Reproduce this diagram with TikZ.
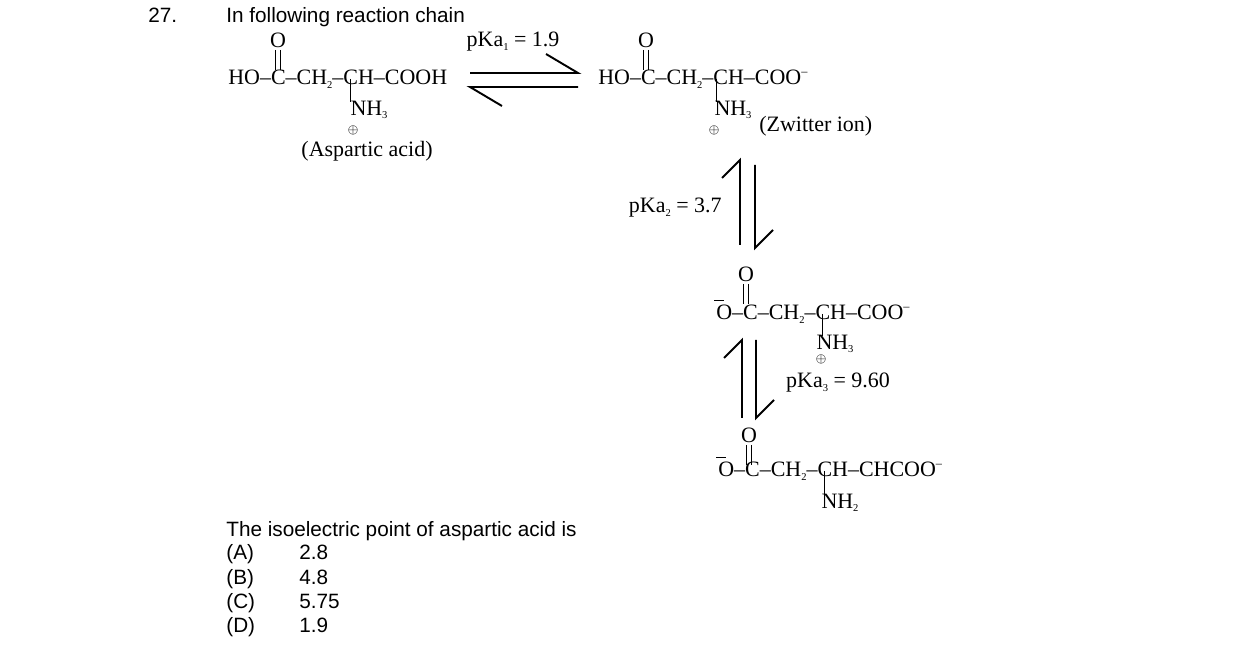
\documentclass[tikz,border=0pt]{standalone}
\usepackage{fontspec}
\setmainfont{Liberation Serif}
\setsansfont{Liberation Sans}
\usetikzlibrary{positioning}
\tikzset{
  chem/.style={font=\fontsize{12.5}{14}\selectfont, inner sep=0pt},
  small/.style={font=\fontsize{7}{8}\selectfont, inner sep=0pt},
  quest/.style={font=\sffamily\fontsize{11.8}{13}\selectfont, inner sep=0pt, anchor=base west},
  bond/.style={line width=.5pt},
  eqarrow/.style={line width=1.1pt}
}
\newcommand{\sub}[1]{\raisebox{-0.35ex}{\fontsize{6}{6}\selectfont #1}}
\newcommand{\minuscharge}{\raisebox{0.9ex}{\fontsize{7}{7}\selectfont –}}
\begin{document}
\begin{tikzpicture}[x=0.02cm,y=-0.02cm]
\useasboundingbox (0,0) rectangle (1238,658);
% question
\node[quest] (num) at (148,23) {27.};
\node[quest] (intro) at (226,23) {In following reaction chain};
% aspartic acid
\node[chem, anchor=base west] (m1) at (228,85) {HO–C–CH\sub{2}–CH–COOH};
\node[chem] (m1o) at (278,40) {O};
\node[chem] (m1n) at (369,110) {NH\sub{3}};
\node[small] (m1p) at (353,130) {$\oplus$};
\node[chem] (m1name) at (367,151) {(Aspartic acid)};
\draw[bond] (275,50) -- (275,70) (280,50) -- (280,70);
\draw[bond] (350,79) -- (350,102);
% first equilibrium
\coordinate (a1) at (470,73); \coordinate (a2) at (578,73);
\coordinate (a3) at (578,87); \coordinate (a4) at (470,87);
\draw[eqarrow] (a1) -- (a2) -- ++(-32,-19);
\draw[eqarrow] (a3) -- (a4) -- ++(32,19);
\node[chem] (k1) at (513,42) {pKa\sub{1} = 1.9};
% zwitter ion
\node[chem, anchor=base west] (m2) at (598,85) {HO–C–CH\sub{2}–CH–COO\minuscharge};
\node[chem] (m2o) at (646,40) {O};
\node[chem] (m2n) at (733,110) {NH\sub{3}};
\node[small] (m2p) at (714,130) {$\oplus$};
\node[chem, anchor=west] (m2name) at (759,126) {(Zwitter ion)};
\draw[bond] (643,50) -- (643,70) (648,50) -- (648,70);
\draw[bond] (716,79) -- (716,102);
% second equilibrium
\coordinate (b1) at (740,245); \coordinate (b2) at (740,160);
\coordinate (b3) at (755,165); \coordinate (b4) at (755,248);
\draw[eqarrow] (b1) -- (b2) -- ++(-18,18);
\draw[eqarrow] (b3) -- (b4) -- ++(18,-18);
\node[chem, anchor=east] (k2) at (722,208) {pKa\sub{2} = 3.7};
% dianion
\node[chem, anchor=base west] (m3) at (716,320) {O–C–CH\sub{2}–CH–COO\minuscharge};
\node[chem] (m3o) at (746,274) {O};
\node[chem] (m3n) at (835,344) {NH\sub{3}};
\node[small] (m3p) at (821,359) {$\oplus$};
\draw[bond] (714,300) -- (724,300);
\draw[bond] (743,284) -- (743,304) (748,284) -- (748,304);
\draw[bond] (822,314) -- (822,336);
% third equilibrium
\coordinate (c1) at (742,418); \coordinate (c2) at (742,340);
\coordinate (c3) at (756,340); \coordinate (c4) at (756,418);
\draw[eqarrow] (c1) -- (c2) -- ++(-18,18);
\draw[eqarrow] (c3) -- (c4) -- ++(18,-18);
\node[chem] (k3) at (838,383) {pKa\sub{3} = 9.60};
% trianion
\node[chem, anchor=base west] (m4) at (718,477) {O–C–CH\sub{2}–CH–CHCOO\minuscharge};
\node[chem] (m4o) at (749,435) {O};
\node[chem] (m4n) at (840,503) {NH\sub{2}};
\draw[bond] (716,457) -- (726,457);
\draw[bond] (746,445) -- (746,465) (751,445) -- (751,465);
\draw[bond] (824,471) -- (824,494);
% answers
\node[quest] (ask) at (226,537) {The isoelectric point of aspartic acid is};
\foreach \l/\v/\y in {A/2.8/560,B/4.8/584,C/5.75/608,D/1.9/632}
{
  \node[quest] (opt\l) at (226,\y) {(\l)};
  \node[quest] (val\l) at (299,\y) {\v};
}
\end{tikzpicture}
\end{document}
